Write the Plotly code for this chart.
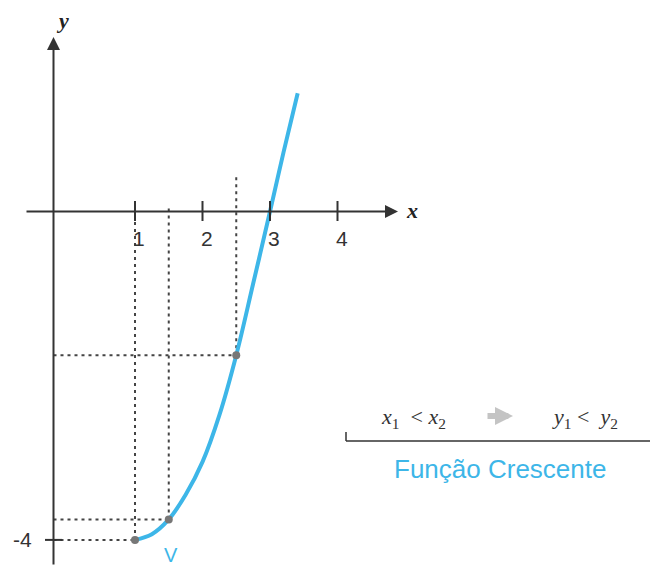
import plotly.graph_objects as go

# ---- data ----
curve_x = [1.0, 1.25, 1.5, 1.75, 2.0, 2.25, 2.5, 2.75, 3.0, 3.2, 3.41]
curve_y = [-4.0, -3.93, -3.75, -3.45, -3.05, -2.48, -1.75, -0.88, 0.0, 0.72, 1.44]
point_x = [1.0, 1.5, 2.5]
point_y = [-4.0, -3.75, -1.75]
x_ticks = [1, 2, 3, 4]
x_tick_labels = ["1", "2", "3", "4"]
y_ticks = [-4]
y_tick_labels = ["-4"]

W, H = 650, 567
X0PX, XUNIT = 67.5, 67.5
Y0PX, YUNIT = 211.5, 82.1

def X(px):
    return (px - X0PX) / XUNIT

def Y(py):
    return (Y0PX - py) / YUNIT

AX_COL = "#333333"
BLUE = "#3db6e8"
DOT_COL = "#444444"

fig = go.Figure()

shapes = []
annotations = []

yaxis_x = X(53.5)

# dotted guide lines
vert_tops = {1.0: Y(222), 1.5: Y(208), 2.5: Y(175)}
for px_, py_ in zip(point_x, point_y):
    fig.add_trace(go.Scatter(x=[px_, px_], y=[py_, vert_tops[px_]], mode="lines",
                             line=dict(color=DOT_COL, width=2, dash="3px,4px"),
                             hoverinfo="skip", showlegend=False))
    fig.add_trace(go.Scatter(x=[yaxis_x, px_], y=[py_, py_], mode="lines",
                             line=dict(color=DOT_COL, width=2, dash="3px,4px"),
                             hoverinfo="skip", showlegend=False))

# curve
fig.add_trace(go.Scatter(x=curve_x, y=curve_y, mode="lines",
                         line=dict(color=BLUE, width=4, shape="spline", smoothing=1.0),
                         hoverinfo="skip", showlegend=False))

# points
fig.add_trace(go.Scatter(x=point_x, y=point_y, mode="markers",
                         marker=dict(color="#777777", size=8),
                         hoverinfo="skip", showlegend=False))

# x axis arrow
annotations.append(dict(x=X(398), y=0, ax=X(25), ay=0, xref="x", yref="y",
                        axref="x", ayref="y", showarrow=True, arrowhead=2,
                        arrowsize=1.3, arrowwidth=2, arrowcolor=AX_COL, text=""))
# y axis arrow
annotations.append(dict(x=yaxis_x, y=Y(37), ax=yaxis_x, ay=Y(566), xref="x", yref="y",
                        axref="x", ayref="y", showarrow=True, arrowhead=2,
                        arrowsize=1.3, arrowwidth=2, arrowcolor=AX_COL, text=""))

# ticks
for t, lab in zip(x_ticks, x_tick_labels):
    shapes.append(dict(type="line", x0=t, x1=t, y0=Y(201), y1=Y(221), xref="x", yref="y",
                       line=dict(color=AX_COL, width=2)))
    annotations.append(dict(x=t + 0.06, y=Y(238), text=lab, showarrow=False, xref="x", yref="y",
                            font=dict(family="Liberation Sans, Arial", size=21, color=AX_COL)))
for t, lab in zip(y_ticks, y_tick_labels):
    shapes.append(dict(type="line", x0=X(45), x1=X(62), y0=t, y1=t, xref="x", yref="y",
                       line=dict(color=AX_COL, width=2)))
    annotations.append(dict(x=X(22), y=t, text=lab, showarrow=False, xref="x", yref="y",
                            font=dict(family="Liberation Sans, Arial", size=21, color=AX_COL)))

# axis names
annotations.append(dict(x=X(62), y=Y(20), text="<b><i>y</i></b>", showarrow=False, xref="x", yref="y",
                        font=dict(family="Liberation Serif, Times New Roman", size=22, color="#222")))
annotations.append(dict(x=X(412), y=Y(210), text="<b><i>x</i></b>", showarrow=False, xref="x", yref="y",
                        font=dict(family="Liberation Serif, Times New Roman", size=22, color="#222")))

# vertex label
annotations.append(dict(x=X(171), y=Y(555), text="V", showarrow=False, xref="x", yref="y",
                        font=dict(family="Liberation Sans, Arial", size=20, color=BLUE)))

# caption
serif = dict(family="Liberation Serif, Times New Roman", size=22, color="#333")
annotations.append(dict(x=X(413), y=Y(418), showarrow=False, xref="x", yref="y",
                        text="<i>x</i><sub>1</sub>&nbsp;&nbsp;&lt; <i>x</i><sub>2</sub>", font=serif))
annotations.append(dict(x=X(585), y=Y(418), showarrow=False, xref="x", yref="y",
                        text="<i>y</i><sub>1</sub>&nbsp;&lt;&nbsp;&nbsp;<i>y</i><sub>2</sub>", font=serif))
annotations.append(dict(x=X(513), y=Y(416), ax=X(486), ay=Y(416), xref="x", yref="y",
                        axref="x", ayref="y", showarrow=True, arrowhead=2, arrowsize=0.6,
                        arrowwidth=6, arrowcolor="#c4c4c4", text=""))
shapes.append(dict(type="line", x0=X(346), x1=X(650), y0=Y(441), y1=Y(441), xref="x", yref="y",
                   line=dict(color=AX_COL, width=1.5)))
shapes.append(dict(type="line", x0=X(346), x1=X(346), y0=Y(432), y1=Y(441), xref="x", yref="y",
                   line=dict(color=AX_COL, width=1.5)))
annotations.append(dict(x=X(500), y=Y(469), text="Função Crescente", showarrow=False,
                        xref="x", yref="y",
                        font=dict(family="Liberation Sans, Arial", size=26, color=BLUE)))

fig.update_layout(
    width=W, height=H,
    margin=dict(l=0, r=0, t=0, b=0),
    paper_bgcolor="white", plot_bgcolor="white",
    xaxis=dict(range=[X(0), X(W)], visible=False, fixedrange=True),
    yaxis=dict(range=[Y(H), Y(0)], visible=False, fixedrange=True),
    shapes=shapes, annotations=annotations, showlegend=False,
)

fig.write_html("out.html", config={"displayModeBar": False},
               post_script="document.body.style.margin='0';document.body.style.overflow='hidden';")
